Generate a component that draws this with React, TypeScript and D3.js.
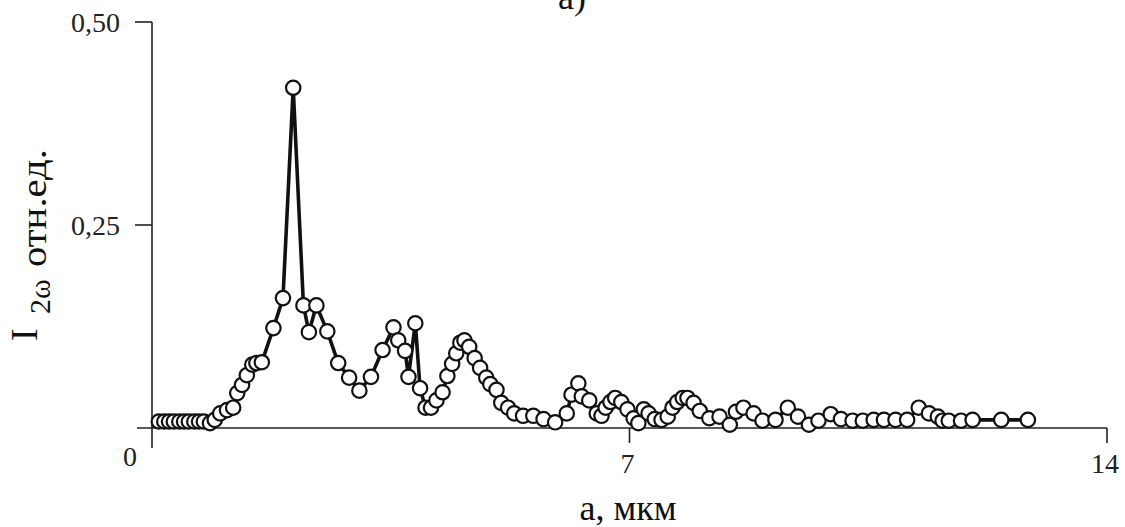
import React from "react";
import * as d3 from "d3";

// a, мкм
const aValues: number[] = [
  0.10, 0.18, 0.25, 0.32, 0.40, 0.47, 0.54, 0.62, 0.69, 0.76,
  0.85, 0.92, 1.00, 1.10, 1.19, 1.25, 1.32, 1.39, 1.47, 1.53,
  1.61, 1.78, 1.92, 2.07, 2.22, 2.30, 2.41, 2.57, 2.73, 2.89,
  3.04, 3.21, 3.38, 3.54, 3.61, 3.71, 3.76, 3.86, 3.93, 4.01,
  4.09, 4.17, 4.26, 4.33, 4.40, 4.46, 4.52, 4.58, 4.65, 4.73,
  4.81, 4.90, 4.96, 5.05, 5.12, 5.22, 5.31, 5.44, 5.59, 5.74,
  5.91, 6.08, 6.15, 6.25, 6.30, 6.41, 6.52, 6.59, 6.65, 6.72,
  6.79, 6.88, 6.97, 7.06, 7.13, 7.21, 7.28, 7.37, 7.47, 7.56,
  7.63, 7.70, 7.78, 7.85, 7.94, 8.03, 8.17, 8.32, 8.47, 8.56,
  8.67, 8.82, 8.95, 9.14, 9.32, 9.47, 9.63, 9.77, 9.95, 10.10,
  10.27, 10.42, 10.58, 10.73, 10.90, 11.07, 11.24, 11.39, 11.52, 11.59,
  11.68, 11.86, 12.03, 12.45, 12.84,
];

// I2ω, отн.ед.
const intensityValues: number[] = [
  0.008, 0.008, 0.008, 0.008, 0.008, 0.008, 0.008, 0.008, 0.008, 0.008,
  0.006, 0.010, 0.018, 0.022, 0.025, 0.043, 0.053, 0.065, 0.078, 0.080,
  0.081, 0.123, 0.160, 0.419, 0.151, 0.118, 0.151, 0.119, 0.080, 0.062,
  0.046, 0.063, 0.096, 0.124, 0.108, 0.095, 0.063, 0.129, 0.049, 0.025,
  0.025, 0.034, 0.044, 0.064, 0.079, 0.092, 0.105, 0.108, 0.100, 0.086,
  0.074, 0.062, 0.054, 0.047, 0.031, 0.025, 0.018, 0.015, 0.015, 0.011,
  0.007, 0.018, 0.041, 0.055, 0.039, 0.034, 0.018, 0.015, 0.025, 0.032,
  0.037, 0.032, 0.023, 0.012, 0.006, 0.023, 0.018, 0.011, 0.010, 0.014,
  0.025, 0.032, 0.037, 0.037, 0.031, 0.021, 0.012, 0.014, 0.004, 0.020,
  0.025, 0.018, 0.009, 0.010, 0.025, 0.014, 0.004, 0.009, 0.017, 0.011,
  0.009, 0.009, 0.010, 0.010, 0.010, 0.010, 0.025, 0.018, 0.014, 0.009,
  0.009, 0.009, 0.010, 0.010, 0.010,
];

const xTicks: number[] = [0, 7, 14];
const xTickLabels: string[] = ["0", "7", "14"];
const yTicks: number[] = [0.25, 0.5];
const yTickLabels: string[] = ["0,25", "0,50"];

const W = 1125;
const H = 527;
const FONT = "'Liberation Serif', 'DejaVu Serif', serif";

export default function App() {
  const x = d3.scaleLinear().domain([0, 14]).range([152, 1107]);
  const y = d3.scaleLinear().domain([0, 0.5]).range([428, 22]);

  const pts: [number, number][] = aValues.map((a, i) => [a, intensityValues[i]]);
  const line = d3
    .line<[number, number]>()
    .x((d) => x(d[0]))
    .y((d) => y(d[1]));

  const x0 = x(0);
  const y0 = y(0);

  return (
    <svg
      width={W}
      height={H}
      style={{ position: "absolute", left: 0, top: 0, background: "#fff" }}
      fontFamily={FONT}
    >
      <rect width={W} height={H} fill="#fff" />
      {/* title */}
      <text x={558} y={9} fontSize={36} fill="#111">
        а)
      </text>

      {/* axes */}
      <line x1={x0} y1={y(0.5)} x2={x0} y2={y0 + 20} stroke="#222" strokeWidth={1.6} />
      <line x1={x0 - 15} y1={y0} x2={x(14)} y2={y0} stroke="#222" strokeWidth={1.6} />
      {yTicks.map((t, i) => (
        <g key={"yt" + i}>
          <line x1={x0 - 17} y1={y(t)} x2={x0} y2={y(t)} stroke="#222" strokeWidth={1.6} />
          <text x={120} y={y(t) + 10} fontSize={28} textAnchor="end" fill="#222">
            {yTickLabels[i]}
          </text>
        </g>
      ))}
      {xTicks.map((t, i) =>
        t === 0 ? (
          <text key={"xt" + i} x={x(t) - 22} y={466} fontSize={28} textAnchor="middle" fill="#222">
            {xTickLabels[i]}
          </text>
        ) : (
          <g key={"xt" + i}>
            <line x1={x(t)} y1={y0} x2={x(t)} y2={y0 + 15} stroke="#222" strokeWidth={1.6} />
            <text x={x(t) - 2} y={y0 + 45} fontSize={28} textAnchor="middle" fill="#222">
              {xTickLabels[i]}
            </text>
          </g>
        )
      )}

      {/* axis titles */}
      <text x={628} y={520} fontSize={36} textAnchor="middle" fill="#111">
        а,  мкм
      </text>
      <text transform="translate(37,341) rotate(-90)" fontSize={38} fill="#111">
        I
      </text>
      <text transform="translate(50,314) rotate(-90)" fontSize={30} fill="#111">
        2ω
      </text>
      <text
        transform="translate(46,267) rotate(-90)"
        fontSize={36}
        fill="#111"
        textLength={118}
        lengthAdjust="spacingAndGlyphs"
      >
        отн.ед.
      </text>

      {/* data */}
      <path d={line(pts) || ""} fill="none" stroke="#111" strokeWidth={3.6} strokeLinejoin="round" />
      {pts.map((d, i) => (
        <circle
          key={i}
          cx={x(d[0])}
          cy={y(d[1])}
          r={7.2}
          fill="#fff"
          stroke="#111"
          strokeWidth={2.2}
        />
      ))}
    </svg>
  );
}
